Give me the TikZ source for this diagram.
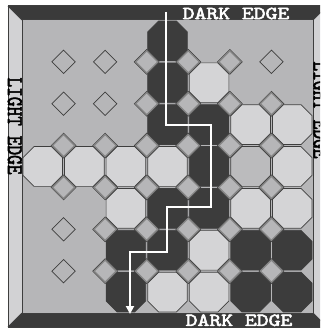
\documentclass[tikz,border=0pt]{standalone}
\usepackage{fontspec}
\usetikzlibrary{arrows.meta}
\newfontfamily\edgefam{lmmono10-regular.otf}[FakeBold=2.5]
\definecolor{boardbg}{HTML}{B6B6B8}
\definecolor{octL}{HTML}{D4D4D6}
\definecolor{octD}{HTML}{3C3C3C}
\definecolor{octM}{HTML}{BBBBBD}
\definecolor{framedark}{HTML}{3A3A3A}
\definecolor{framelight}{HTML}{D2D2D4}
\definecolor{lineclr}{HTML}{3E3E3E}
\definecolor{dmdband}{HTML}{858585}
\newcommand\edgefnt{\fontsize{18.5}{18.5}\selectfont\edgefam}
\tikzset{
  octo/.style={draw=lineclr, line width=0.7pt, line join=miter},
  dmdfull/.style={fill=boardbg, draw=lineclr, line width=0.8pt},
  dmdinner/.style={draw=dmdband, line width=1.3pt},
  dmdopen/.style={draw=lineclr, line width=0.7pt},
  edgetxt/.style={inner sep=0pt, font=\edgefnt, xscale=1.22},
  route/.style={draw=white, line width=2pt, -{Triangle[length=8pt,width=8pt]}},
}
\begin{document}
\begin{tikzpicture}[x=1pt,y=-1pt]
\useasboundingbox (0,0) rectangle (320,328);
\clip (0,0) rectangle (320,328);
% frame
\fill[framedark] (8,6) -- (327,6) -- (313,20) -- (22,20) -- cycle;
\fill[framedark] (8,327) -- (327,327) -- (313,313) -- (22,313) -- cycle;
\fill[framelight] (8,6) -- (22,20) -- (22,313) -- (8,327) -- cycle;
\fill[framelight] (327,6) -- (313,20) -- (313,313) -- (327,327) -- cycle;
\draw[lineclr, line width=0.8pt] (8,6) -- (22,20) (327,6) -- (313,20) (8,327) -- (22,313) (327,327) -- (313,313);
\draw[lineclr, line width=1pt] (8,6) rectangle (327,327);
% board
\fill[boardbg] (22,20) rectangle (313,313);
\draw[lineclr, line width=1pt] (22,20) rectangle (313,313);
% octagons
\foreach \c/\r/\k in {3/0/D, 3/1/D, 4/1/L, 3/2/D, 4/2/D, 5/2/L, 6/2/L,
  0/3/L, 1/3/L, 2/3/L, 3/3/L, 4/3/D, 5/3/M, 6/3/L,
  2/4/L, 3/4/D, 4/4/D, 5/4/L, 6/4/L,
  2/5/D, 3/5/D, 4/5/L, 5/5/D, 6/5/D,
  2/6/D, 3/6/L, 4/6/L, 5/6/D, 6/6/D}{
  \draw[octo, fill=oct\k, shift={({22+41.571*(\c+0.5)},{20+41.857*(\r+0.5)})}]
    (-8.8,-19.9) -- (8.8,-19.9) -- (19.8,-8.9) -- (19.8,8.9) -- (8.8,19.9)
    -- (-8.8,19.9) -- (-19.8,8.9) -- (-19.8,-8.9) -- cycle;
}
% open diamonds
\foreach \i/\j in {1/1, 2/1, 6/1, 1/2, 2/2, 1/5, 1/6}{
  \draw[dmdopen, shift={({22+41.571*\i},{20+41.857*\j})}]
    (0,-11.7) -- (11.7,0) -- (0,11.7) -- (-11.7,0) -- cycle;
}
% filled diamonds
\foreach \i/\j in {3/1, 4/1, 5/1, 3/2, 4/2, 5/2, 6/2,
  1/3, 2/3, 3/3, 4/3, 5/3, 6/3, 1/4, 2/4, 3/4, 4/4, 5/4, 6/4,
  2/5, 3/5, 4/5, 5/5, 6/5, 2/6, 3/6, 4/6, 5/6, 6/6}{
  \begin{scope}[shift={({22+41.571*\i},{20+41.857*\j})}]
    \draw[dmdfull] (0,-12.3) -- (12.3,0) -- (0,12.3) -- (-12.3,0) -- cycle;
    \draw[dmdinner] (0,-11.1) -- (11.1,0) -- (0,11.1) -- (-11.1,0) -- cycle;
  \end{scope}
}
% route
\coordinate (p0) at (165.5,12);
\coordinate (p1) at (165.5,125);
\coordinate (p2) at (211,125);
\coordinate (p3) at (211,207);
\coordinate (p4) at (167,207);
\coordinate (p5) at (167,252);
\coordinate (p6) at (130,252);
\coordinate (p7) at (130,314);
\draw[route] (p0) -- (p1) -- (p2) -- (p3) -- (p4) -- (p5) -- (p6) -- (p7);
% labels
\node[edgetxt, text=white] (topl) at (236,13.5) {DARK EDGE};
\node[edgetxt, text=white] (botl) at (239,320.3) {DARK EDGE};
\node[edgetxt, rotate=-90, text=black] (leftl) at (14.8,126) {LIGHT EDGE};
\node[edgetxt, rotate=-90, text=black] (rightl) at (320.5,110) {LIGHT EDGE};
\end{tikzpicture}
\end{document}
